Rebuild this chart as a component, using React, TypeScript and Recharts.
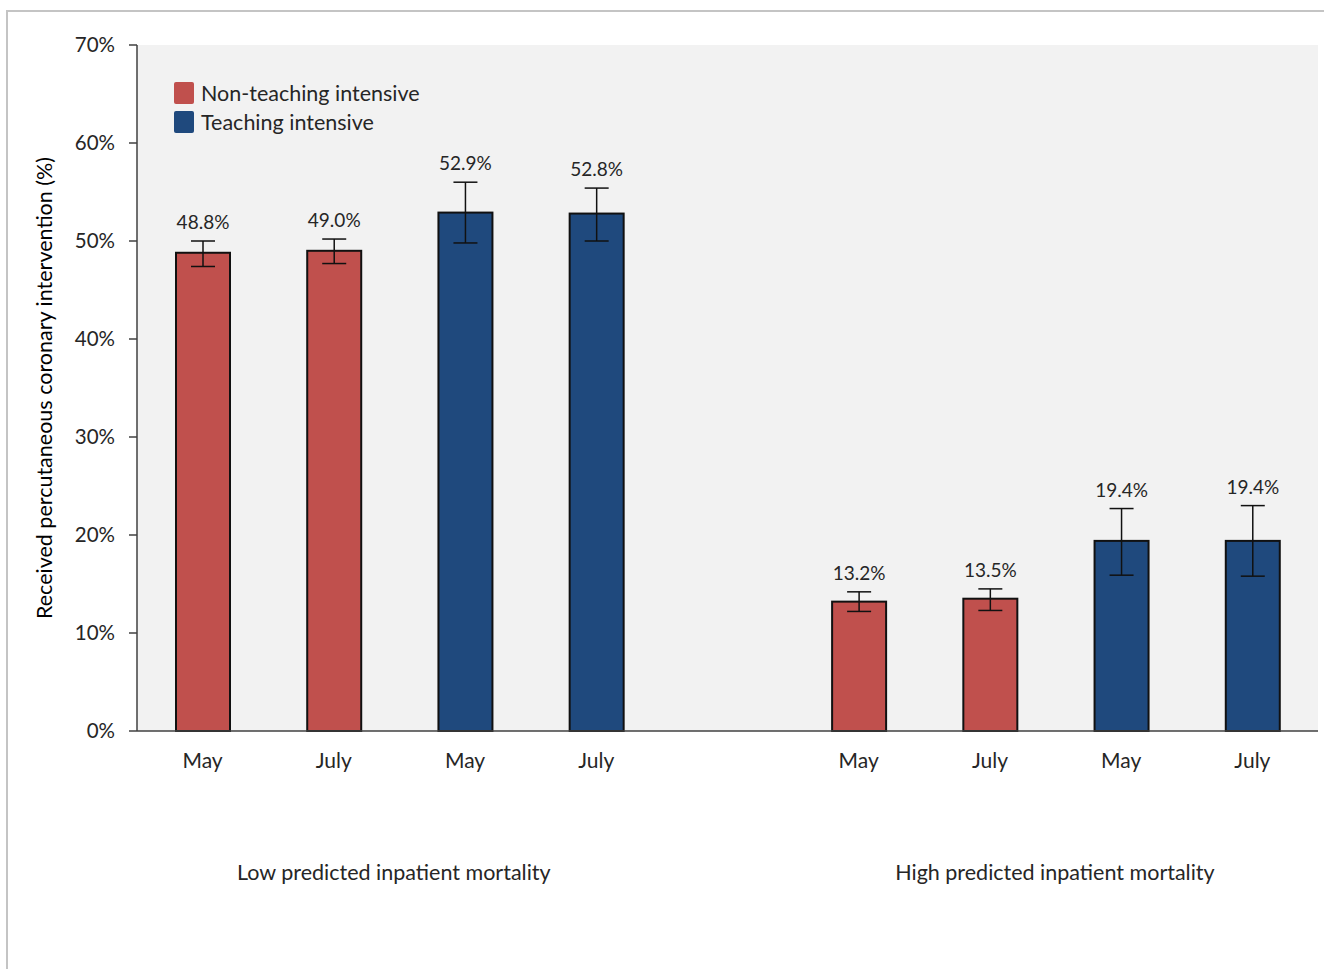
import { Bar, BarChart, CartesianGrid, ErrorBar, LabelList, XAxis, YAxis } from "recharts";

const months = ["May", "July", "May", "July", "", "May", "July", "May", "July"];
const pci = [48.8, 49.0, 52.9, 52.8, 0, 13.2, 13.5, 19.4, 19.4];
const errLow = [1.4, 1.3, 3.1, 2.8, null, 1.0, 1.2, 3.5, 3.6];
const errHigh = [1.2, 1.2, 3.1, 2.6, null, 1.0, 1.0, 3.3, 3.6];
const seriesOf = [0, 0, 1, 1, 0, 0, 0, 1, 1];
const seriesNames = ["Non-teaching intensive", "Teaching intensive"];
const groupLabels = ["Low predicted inpatient mortality", "High predicted inpatient mortality"];
const groupAfter = [1, 6];
const yTicks = [0, 10, 20, 30, 40, 50, 60, 70];

const COLORS = ["#c0504d", "#1f497d"];
const FONT = "Lato, 'Open Sans', sans-serif";
const TEXT = "#262626";

const data = months.map((m, i) => ({
  key: i,
  value: pci[i],
  series: seriesOf[i],
  err: errLow[i] == null ? null : [errLow[i], errHigh[i]],
}));

const MonthTick = (props: any) => {
  const { x, y, payload } = props;
  const i = payload.value as number;
  const g = groupAfter.indexOf(i);
  return (
    <g>
      <text x={x} y={y} dy={29} textAnchor="middle" fill={TEXT} fontSize={21} fontFamily={FONT}>
        {months[i]}
      </text>
      {g >= 0 && (
        <text x={x + (g === 0 ? 60 : 65)} y={y} dy={141} textAnchor="middle" fill={TEXT} fontSize={21.5} fontFamily={FONT}>
          {groupLabels[g]}
        </text>
      )}
    </g>
  );
};

const ValueLabel = (props: any) => {
  const { x, y, width, height, value, index } = props;
  if (!value) return null;
  const top = y - (errHigh[index] as number) * (height / value);
  return (
    <text x={x + width / 2} y={top - 12} textAnchor="middle" fill={TEXT} fontSize={19} fontFamily={FONT}>
      {value.toFixed(1)}%
    </text>
  );
};

const LegendBox = () => (
  <div style={{ position: "absolute", left: 174, top: 78, fontFamily: FONT, fontSize: 21.5, color: TEXT }}>
    {seriesNames.map((n, i) => (
      <div key={n} style={{ display: "flex", alignItems: "center", height: 29 }}>
        <span
          style={{
            width: 20,
            height: 22,
            background: COLORS[i],
            borderRadius: 2,
            marginRight: 7,
            display: "inline-block",
          }}
        />
        {n}
      </div>
    ))}
  </div>
);

export default function App() {
  return (
    <div style={{ position: "absolute", left: 0, top: 0, width: 1324, height: 969, background: "#fff", overflow: "hidden" }}>
      <div
        style={{
          position: "absolute",
          left: 6,
          top: 10,
          width: 1400,
          height: 1000,
          borderLeft: "2px solid #c4c4c4",
          borderTop: "2px solid #c4c4c4",
        }}
      />
      <BarChart
        width={1324}
        height={969}
        data={data}
        margin={{ top: 45, right: 6, left: 77, bottom: 208 }}
        barCategoryGap="0%"
        style={{ position: "absolute", left: 0, top: 0 }}
      >
        <CartesianGrid horizontal={false} vertical={false} fill="#f2f2f2" />
        <XAxis
          dataKey="key"
          height={30}
          tickLine={false}
          axisLine={{ stroke: "#404040", strokeWidth: 1.5 }}
          tick={<MonthTick />}
          interval={0}
        />
        <YAxis
          width={60}
          domain={[0, 70]}
          ticks={yTicks}
          tickFormatter={(v) => `${v}%`}
          tick={{ fill: TEXT, fontSize: 20.5, fontFamily: FONT }}
          tickSize={8}
          tickMargin={14}
          axisLine={{ stroke: "#404040", strokeWidth: 1.5 }}
          tickLine={{ stroke: "#404040", strokeWidth: 1.5 }}
          label={{
            value: "Received percutaneous coronary intervention (%)",
            angle: -90,
            position: "center",
            dx: -63,
            fill: "#000",
            fontSize: 21.5,
            fontFamily: FONT,
          }}
        />
        <Bar dataKey="value" barSize={54} isAnimationActive={false}
          shape={(p: any) =>
            p.payload.value ? (
              <rect x={p.x} y={p.y} width={p.width} height={p.height} fill={COLORS[p.payload.series]} stroke="#111" strokeWidth={2} />
            ) : (
              <g />
            )
          }
        >
          <ErrorBar dataKey="err" width={12} stroke="#111" strokeWidth={1.5} direction="y" />
          <LabelList dataKey="value" content={<ValueLabel />} />
        </Bar>
      </BarChart>
      <LegendBox />
    </div>
  );
}
